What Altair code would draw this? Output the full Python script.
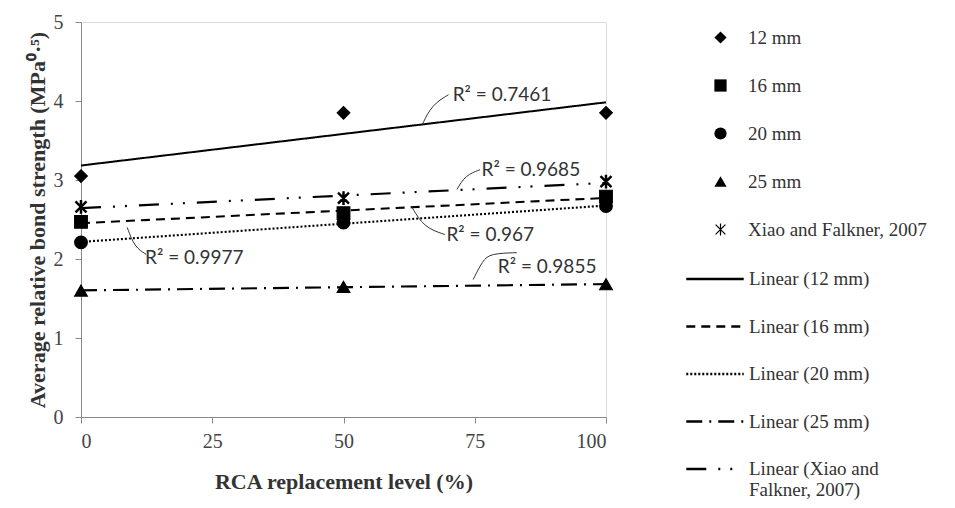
import altair as alt
import pandas as pd

# ---- data ----
levels = [0, 50, 100]
series_names = ["12 mm", "16 mm", "20 mm", "25 mm", "Xiao and Falkner, 2007"]
vals_12 = [3.05, 3.85, 3.85]
vals_16 = [2.47, 2.58, 2.79]
vals_20 = [2.21, 2.46, 2.67]
vals_25 = [1.60, 1.648, 1.68]
vals_xiao = [2.66, 2.77, 2.98]

fit_names = ["Linear (12 mm)", "Linear (16 mm)", "Linear (20 mm)", "Linear (25 mm)",
             "Linear (Xiao and Falkner, 2007)"]

# R² annotation labels (data coordinates)
ann_text = ["R\u00b2 = 0.7461", "R\u00b2 = 0.9685", "R\u00b2 = 0.967", "R\u00b2 = 0.9977", "R\u00b2 = 0.9855"]
ann_x = [70.8, 76.3, 69.6, 12.2, 79.4]
ann_y = [4.08, 3.13, 2.30, 2.01, 1.90]

# leader curves (data coordinates)
lead_id = [1, 1, 1, 2, 2, 2, 3, 3, 3, 4, 4, 4, 5, 5, 5, 5]
lead_x = [65, 66.8, 70.0, 71.6, 73.2, 76.0, 63, 65.3, 69.3, 8.8, 10.2, 12.4, 74.7, 76.5, 78.0, 83.0]
lead_y = [3.70, 3.95, 4.08, 2.88, 3.06, 3.13, 2.66, 2.40, 2.31, 2.40, 2.15, 2.06, 1.74, 1.98, 2.07, 2.08]

rows = []
for name, vals in zip(series_names, [vals_12, vals_16, vals_20, vals_25, vals_xiao]):
    for x, y in zip(levels, vals):
        rows.append({"series": name, "x": x, "y": y})
df = pd.DataFrame(rows)
ann = pd.DataFrame({"t": ann_text, "x": ann_x, "y": ann_y})
lead = pd.DataFrame({"id": lead_id, "x": lead_x, "y": lead_y})

serif = "Liberation Serif"

xs = alt.Scale(domain=[0, 100], nice=False)
ys = alt.Scale(domain=[0, 5], nice=False)

x_axis = alt.Axis(values=[0, 25, 50, 75, 100], title="RCA replacement level (%)", grid=False,
                  format="d",
                  labelFont=serif, labelFontSize=20, labelColor="#444", labelPadding=8,
                  titleFont=serif, titleFontSize=22, titleFontWeight="bold", titleColor="#333",
                  titlePadding=20, domainColor="#888", tickColor="#888", tickSize=6)
y_axis = alt.Axis(values=[0, 1, 2, 3, 4, 5], title="Average relative bond strength (MPa\u2070\u00b7\u2075)",
                  format="d",
                  grid=False, labelFont=serif, labelFontSize=20, labelColor="#444", labelPadding=12,
                  titleFont=serif, titleFontSize=22, titleFontWeight="bold", titleColor="#333",
                  titlePadding=4, domainColor="#888", tickColor="#888", tickSize=6)

# asterisk drawn as three thin filled bars so that it shows in the legend as well
asterisk = ("M-0.1,-1L0.1,-1L0.1,1L-0.1,1Z"
            "M-0.73,-0.87L0.87,0.73L0.73,0.87L-0.87,-0.73Z"
            "M-0.87,0.73L0.73,-0.87L0.87,-0.73L-0.73,0.87Z")

line_legend = alt.Legend(title=None, orient="none", legendX=604, legendY=227,
                         labelFont=serif, labelFontSize=19, labelColor="#333", labelLimit=300,
                         symbolType="stroke", symbolSize=3300, symbolStrokeColor="black",
                         symbolStrokeWidth=2.4,
                         labelOffset=4, rowPadding=7.5,
                         labelExpr="datum.label == 'Linear (Xiao and Falkner, 2007)' ? ['Linear (Xiao and', 'Falkner, 2007)'] : datum.label")

lines = alt.Chart(df).transform_regression(
    "x", "y", groupby=["series"], extent=[0, 100]
).transform_calculate(
    fit="'Linear (' + datum.series + ')'"
).mark_line(color="black").encode(
    x=alt.X("x:Q", scale=xs, axis=x_axis),
    y=alt.Y("y:Q", scale=ys, axis=y_axis),
    strokeDash=alt.StrokeDash("fit:N", scale=alt.Scale(
        domain=fit_names,
        range=[[1, 0], [9, 6], [2, 2], [16, 7, 2, 7], [20, 12, 2, 10, 2, 12]]),
        legend=line_legend),
    strokeWidth=alt.StrokeWidth("fit:N", scale=alt.Scale(domain=fit_names, range=[2, 2.2, 1.6, 2, 3.6]),
                                legend=None),
)

points = alt.Chart(df).mark_point(filled=True, fill="black", stroke="black", strokeWidth=1.2,
                                  size=160, opacity=1).encode(
    x=alt.X("x:Q", scale=xs),
    y=alt.Y("y:Q", scale=ys),
    shape=alt.Shape("series:N", scale=alt.Scale(
        domain=series_names,
        range=["diamond", "square", "circle", "triangle-up", asterisk]),
        legend=alt.Legend(title=None, orient="none", legendX=630, legendY=6,
                          labelFont=serif, labelFontSize=19, labelColor="#333", labelLimit=300,
                          symbolFillColor="black", symbolStrokeColor="black", symbolStrokeWidth=1.2,
                          symbolSize=150, labelOffset=18, rowPadding=28)),
)

leaders = alt.Chart(lead).mark_line(color="#333", strokeWidth=1, interpolate="basis").encode(
    x=alt.X("x:Q", scale=xs), y=alt.Y("y:Q", scale=ys), detail="id:N")

labels = alt.Chart(ann).mark_text(align="left", baseline="middle", font="Lato",
                                  fontSize=19, color="#333").encode(
    x=alt.X("x:Q", scale=xs), y=alt.Y("y:Q", scale=ys), text="t:N")

chart = alt.layer(lines, leaders, points, labels).resolve_scale(
    strokeDash="independent", shape="independent"
).properties(
    width=525, height=395,
    autosize=alt.AutoSizeParams(type="none"),
    padding={"left": 81, "top": 22, "right": 349, "bottom": 91},
).configure_view(stroke=None).configure(background="white")

chart.save("out.html", embed_options={"renderer": "svg", "actions": False})
